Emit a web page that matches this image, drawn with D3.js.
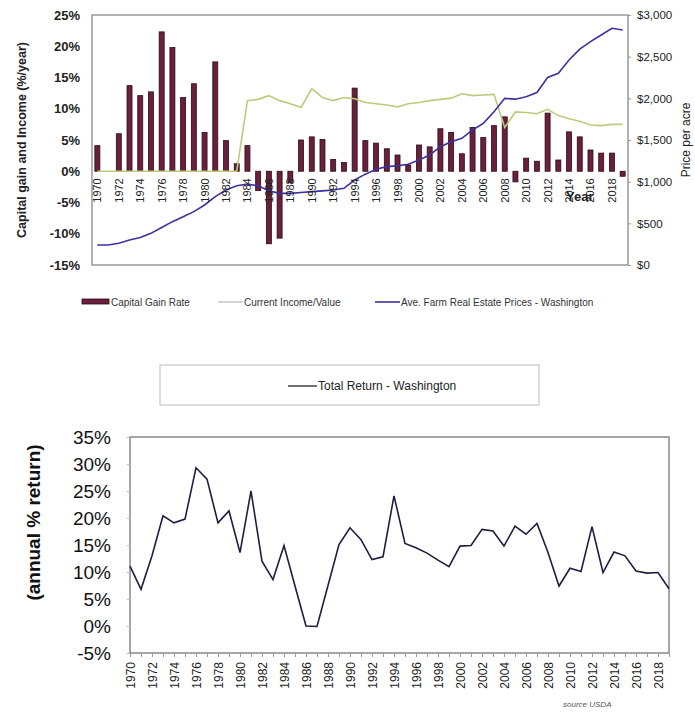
<!DOCTYPE html>
<html>
<head>
<meta charset="utf-8">
<script src="https://cdn.jsdelivr.net/npm/d3@7"></script>
<style>
  body { margin: 0; background: #fff; }
  svg { font-family: "Liberation Sans", Arial, sans-serif; }
</style>
</head>
<body>
<svg id="chart" width="695" height="714"></svg>
<script>
// data
const years = d3.range(1970, 2020);
const capitalGain = [4.1, 0, 6.0, 13.7, 12.1, 12.7, 22.3, 19.8, 11.8, 14.0,
  6.2, 17.5, 4.9, 1.2, 4.1, -3.1, -11.6, -10.7, -1.8, 5.0,
  5.5, 5.1, 1.9, 1.4, 13.3, 4.9, 4.5, 3.6, 2.6, 1.0,
  4.2, 3.9, 6.8, 6.2, 2.8, 7.0, 5.4, 7.3, 8.7, -1.7,
  2.1, 1.6, 9.3, 1.8, 6.3, 5.5, 3.4, 2.9, 2.9, -0.8];
const incomeValue = [0, 0, 0, 0, 0, 0, 0, 0, 0, 0,
  0, 0, 0, 0, 11.3, 11.5, 12.1, 11.3, 10.8, 10.2,
  13.2, 11.8, 11.3, 11.8, 11.6, 11.0, 10.8, 10.6, 10.3, 10.8,
  11.0, 11.3, 11.5, 11.7, 12.4, 12.1, 12.2, 12.3, 7.0, 9.5,
  9.4, 9.2, 9.9, 8.9, 8.4, 8.0, 7.4, 7.3, 7.5, 7.5];
const landPrice = [240, 240, 260, 300, 330, 380, 450, 520, 580, 640,
  720, 820, 900, 950, 970, 950, 890, 860, 860, 870,
  880, 890, 900, 920, 1020, 1090, 1150, 1180, 1190, 1210,
  1260, 1320, 1420, 1480, 1520, 1620, 1700, 1840, 2000, 1990,
  2020, 2070, 2250, 2300, 2460, 2590, 2680, 2760, 2840, 2820];
const totalReturn = [11.1, 6.8, 13.0, 20.4, 19.1, 19.8, 29.3, 27.2, 19.1, 21.3,
  13.6, 25.0, 12.0, 8.6, 14.9, 7.4, 0, -0.1, 7.5, 15.1,
  18.2, 16.0, 12.3, 12.8, 24.1, 15.3, 14.5, 13.5, 12.2, 11.0,
  14.8, 14.9, 17.9, 17.6, 14.8, 18.5, 17.0, 19.0, 13.6, 7.4,
  10.7, 10.1, 18.4, 9.9, 13.7, 13.0, 10.2, 9.8, 9.9, 6.9];
const pctTicks = [-15, -10, -5, 0, 5, 10, 15, 20, 25];
const priceTicks = [0, 500, 1000, 1500, 2000, 2500, 3000];
const returnTicks = [-5, 0, 5, 10, 15, 20, 25, 30, 35];
const yearLabels = years.filter(y => y % 2 === 0);

const svg = d3.select('#chart');

// ---------- top chart ----------
const box1 = { left: 92, right: 628, top: 15, bottom: 265 };

const x1 = d3.scaleBand().domain(years).range([box1.left, box1.right]);
const yPct = d3.scaleLinear().domain([-15, 25]).range([box1.bottom, box1.top]);
const yPrice = d3.scaleLinear().domain([0, 3000]).range([box1.bottom, box1.top]);

svg.append('rect')
  .attr('x', box1.left).attr('y', box1.top)
  .attr('width', box1.right - box1.left).attr('height', box1.bottom - box1.top)
  .attr('fill', 'none').attr('stroke', '#999').attr('stroke-width', 1.5);

// left axis
const leftAxis = svg.append('g')
  .attr('transform', `translate(${box1.left},0)`)
  .call(d3.axisLeft(yPct).tickValues(pctTicks).tickSize(0).tickPadding(12).tickFormat(d => d + '%'));
leftAxis.select('.domain').remove();
leftAxis.selectAll('text').attr('font-size', 13).attr('font-weight', 'bold').attr('fill', '#222');

// right axis
const rightAxis = svg.append('g')
  .attr('transform', `translate(${box1.right},0)`)
  .call(d3.axisRight(yPrice).tickValues(priceTicks).tickSize(3).tickPadding(6).tickFormat(d => '$' + d3.format(',')(d)));
rightAxis.select('.domain').remove();
rightAxis.selectAll('line').attr('stroke', '#999');
rightAxis.selectAll('text').attr('font-size', 11.5).attr('fill', '#222');

// bars
svg.append('g').selectAll('rect')
  .data(years)
  .enter()
  .append('rect')
  .attr('x', (d) => x1(d) + x1.bandwidth() / 2 - 2.5)
  .attr('y', (d, i) => yPct(Math.max(0, capitalGain[i])))
  .attr('width', 5)
  .attr('height', (d, i) => Math.abs(yPct(capitalGain[i]) - yPct(0)))
  .attr('fill', '#6a1f3c')
  .attr('stroke', '#2a0c18')
  .attr('stroke-width', 0.8);

// income line
const incomeLine = d3.line()
  .x((d, i) => x1(years[i]) + x1.bandwidth() / 2)
  .y(d => yPct(d));
svg.append('path')
  .datum(incomeValue)
  .attr('d', incomeLine)
  .attr('fill', 'none')
  .attr('stroke', '#bccb7c')
  .attr('stroke-width', 1.6);

// price line
const priceLine = d3.line()
  .x((d, i) => x1(years[i]) + x1.bandwidth() / 2)
  .y(d => yPrice(d));
svg.append('path')
  .datum(landPrice)
  .attr('d', priceLine)
  .attr('fill', 'none')
  .attr('stroke', '#3b32a0')
  .attr('stroke-width', 1.6);

// year labels on zero line
svg.append('g').selectAll('text')
  .data(yearLabels)
  .enter()
  .append('text')
  .attr('transform', d => `translate(${x1(d) + x1.bandwidth() / 2 + 4},${yPct(0) + 7}) rotate(-90)`)
  .attr('text-anchor', 'end')
  .attr('font-size', 11)
  .attr('fill', '#222')
  .text(d => d);

svg.append('text')
  .attr('x', 566).attr('y', 201)
  .attr('font-size', 13).attr('font-weight', 'bold').attr('fill', '#222')
  .text('Year');

svg.append('text')
  .attr('transform', `translate(26,${(box1.top + box1.bottom) / 2}) rotate(-90)`)
  .attr('text-anchor', 'middle')
  .attr('font-size', 12.5).attr('font-weight', 'bold').attr('fill', '#222')
  .text('Capital gain and Income  (%/year)');

svg.append('text')
  .attr('transform', `translate(690,${(box1.top + box1.bottom) / 2}) rotate(-90)`)
  .attr('text-anchor', 'middle')
  .attr('font-size', 12).attr('fill', '#222')
  .text('Price per acre');

// top legend
const leg = svg.append('g').attr('font-size', 10).attr('fill', '#333');
leg.append('rect').attr('x', 82).attr('y', 299).attr('width', 27).attr('height', 5)
  .attr('fill', '#6a1f3c').attr('stroke', '#2a0c18').attr('stroke-width', 0.8);
leg.append('text').attr('x', 111).attr('y', 306).text('Capital Gain Rate');
leg.append('line').attr('x1', 218).attr('x2', 243).attr('y1', 302).attr('y2', 302)
  .attr('stroke', '#aaa').attr('stroke-width', 1);
leg.append('text').attr('x', 244).attr('y', 306).text('Current Income/Value');
leg.append('line').attr('x1', 375).attr('x2', 400).attr('y1', 302).attr('y2', 302)
  .attr('stroke', '#3b32a0').attr('stroke-width', 1.6);
leg.append('text').attr('x', 401).attr('y', 306).text('Ave. Farm Real Estate Prices  - Washington');

// ---------- bottom chart ----------
const box2 = { left: 130, right: 669, top: 437, bottom: 653 };

const x2 = d3.scalePoint().domain(years).range([box2.left, box2.right]);
const yRet = d3.scaleLinear().domain([-5, 35]).range([box2.bottom, box2.top]);

svg.append('rect')
  .attr('x', 160).attr('y', 365).attr('width', 379).attr('height', 40)
  .attr('fill', '#fff').attr('stroke', '#bbb').attr('stroke-width', 1);
svg.append('line').attr('x1', 288).attr('x2', 317).attr('y1', 386).attr('y2', 386)
  .attr('stroke', '#222').attr('stroke-width', 1.3);
svg.append('text').attr('x', 318).attr('y', 390)
  .attr('font-size', 12).attr('fill', '#222')
  .text('Total Return  - Washington');

svg.append('rect')
  .attr('x', box2.left).attr('y', box2.top)
  .attr('width', box2.right - box2.left).attr('height', box2.bottom - box2.top)
  .attr('fill', 'none').attr('stroke', '#888').attr('stroke-width', 1.5);

const retAxis = svg.append('g')
  .attr('transform', `translate(${box2.left},0)`)
  .call(d3.axisLeft(yRet).tickValues(returnTicks).tickSize(3).tickPadding(16).tickFormat(d => d + '%'));
retAxis.select('.domain').remove();
retAxis.selectAll('line').attr('stroke', '#bbb');
retAxis.selectAll('text').attr('font-size', 19).attr('fill', '#111');

const yearAxis = svg.append('g')
  .attr('transform', `translate(0,${box2.bottom})`)
  .call(d3.axisBottom(x2).tickSize(4).tickFormat(''));
yearAxis.select('.domain').remove();
yearAxis.selectAll('line').attr('stroke', '#999');

svg.append('g').selectAll('text')
  .data(yearLabels)
  .enter()
  .append('text')
  .attr('transform', d => `translate(${x2(d) + 4.5},${box2.bottom + 9}) rotate(-90)`)
  .attr('text-anchor', 'end')
  .attr('font-size', 12)
  .attr('fill', '#222')
  .text(d => d);

svg.append('path')
  .datum(totalReturn)
  .attr('d', d3.line().x((d, i) => x2(years[i])).y(d => yRet(d)))
  .attr('fill', 'none')
  .attr('stroke', '#1e1e40')
  .attr('stroke-width', 1.6);

svg.append('text')
  .attr('transform', `translate(40,${(box2.top + 608) / 2}) rotate(-90)`)
  .attr('text-anchor', 'middle')
  .attr('font-size', 19).attr('font-weight', 'bold').attr('fill', '#111')
  .text('(annual % return)');

svg.append('text')
  .attr('x', 563).attr('y', 707)
  .attr('font-size', 8).attr('font-style', 'italic').attr('fill', '#555')
  .text('source USDA');
</script>
</body>
</html>
